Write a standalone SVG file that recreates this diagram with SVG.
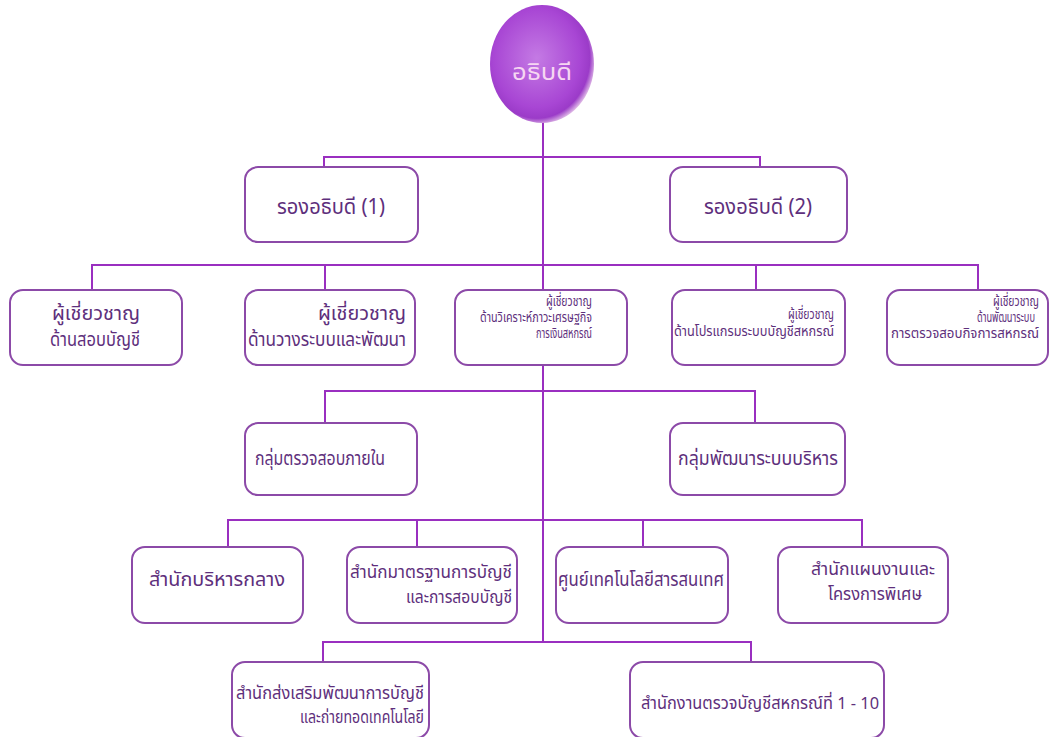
<svg xmlns="http://www.w3.org/2000/svg" width="1056" height="737" viewBox="0 0 1056 737">
<defs>
<radialGradient id="ball" cx="0.45" cy="0.45" r="0.58">
<stop offset="0" stop-color="#c47ae4"/>
<stop offset="0.72" stop-color="#a846d4"/>
<stop offset="0.88" stop-color="#9b3bc8"/>
<stop offset="1" stop-color="#ecd2ec"/>
</radialGradient>
<style>
.ln{fill:none;stroke:#9a2fc0;stroke-width:2}
.bx{fill:#ffffff;stroke:#8c4aa8;stroke-width:2}
.t{font-family:"Noto Sans Thai","Noto Sans","DejaVu Sans",sans-serif;fill:#5e2f7c}
.s22{font-size:21px}
.s20{font-size:19px}
.s18{font-size:18px}
.s17{font-size:17px}
.s14{font-size:14px}
</style>
</defs>
<rect width="1056" height="737" fill="#ffffff"/>
<g id="connectors">
<path class="ln" d="M543 122 V290"/>
<path class="ln" d="M543 365 V642"/>
<path class="ln" d="M324 167 V157 H760 V167"/>
<path class="ln" d="M92 290 V265 H978 V290"/>
<path class="ln" d="M325 265 V290"/>
<path class="ln" d="M756 265 V290"/>
<path class="ln" d="M325 423 V391 H755 V423"/>
<path class="ln" d="M228 547 V520 H862 V547"/>
<path class="ln" d="M417 520 V547"/>
<path class="ln" d="M643 520 V547"/>
<path class="ln" d="M323 662 V642 H751 V662"/>
</g>
<g id="director">
<ellipse cx="542" cy="64" rx="52" ry="59" fill="url(#ball)"/>
<text class="t" x="542" y="80" text-anchor="middle" font-size="23" style="fill:#f6d6f2" textLength="60" lengthAdjust="spacingAndGlyphs">อธิบดี</text>
</g>
<g id="deputy1">
<rect class="bx" x="245" y="167" width="173" height="75" rx="13"/>
<text class="t s22" x="331" y="214" text-anchor="middle" textLength="108" lengthAdjust="spacingAndGlyphs">รองอธิบดี (1)</text>
</g>
<g id="deputy2">
<rect class="bx" x="670" y="167" width="177" height="75" rx="13"/>
<text class="t s22" x="758" y="214" text-anchor="middle" textLength="108" lengthAdjust="spacingAndGlyphs">รองอธิบดี (2)</text>
</g>
<g id="expert1">
<rect class="bx" x="10" y="290" width="172" height="75" rx="13"/>
<text class="t s20" x="140" y="320" text-anchor="end" textLength="88" lengthAdjust="spacingAndGlyphs">ผู้เชี่ยวชาญ</text>
<text class="t s20" x="140" y="346" text-anchor="end" textLength="90" lengthAdjust="spacingAndGlyphs">ด้านสอบบัญชี</text>
</g>
<g id="expert2">
<rect class="bx" x="245" y="290" width="170" height="75" rx="13"/>
<text class="t s20" x="406" y="320" text-anchor="end" textLength="88" lengthAdjust="spacingAndGlyphs">ผู้เชี่ยวชาญ</text>
<text class="t s20" x="406" y="346" text-anchor="end" textLength="158" lengthAdjust="spacingAndGlyphs">ด้านวางระบบและพัฒนา</text>
</g>
<g id="expert3">
<rect class="bx" x="455" y="290" width="172" height="75" rx="13"/>
<text class="t s14" x="592" y="306" text-anchor="end" textLength="46" lengthAdjust="spacingAndGlyphs">ผู้เชี่ยวชาญ</text>
<text class="t s14" x="592" y="322" text-anchor="end" textLength="112" lengthAdjust="spacingAndGlyphs">ด้านวิเคราะห์ภาวะเศรษฐกิจ</text>
<text class="t s14" x="592" y="338" text-anchor="end" textLength="56" lengthAdjust="spacingAndGlyphs">การเงินสหกรณ์</text>
</g>
<g id="expert4">
<rect class="bx" x="672" y="290" width="173" height="75" rx="13"/>
<text class="t s14" x="834" y="319" text-anchor="end" textLength="46" lengthAdjust="spacingAndGlyphs">ผู้เชี่ยวชาญ</text>
<text class="t s14" x="834" y="336" text-anchor="end" textLength="160" lengthAdjust="spacingAndGlyphs">ด้านโปรแกรมระบบบัญชีสหกรณ์</text>
</g>
<g id="expert5">
<rect class="bx" x="887" y="290" width="161" height="75" rx="13"/>
<text class="t s14" x="1039" y="306" text-anchor="end" textLength="46" lengthAdjust="spacingAndGlyphs">ผู้เชี่ยวชาญ</text>
<text class="t s14" x="1035" y="322" text-anchor="end" textLength="58" lengthAdjust="spacingAndGlyphs">ด้านพัฒนาระบบ</text>
<text class="t s14" x="1039" y="338" text-anchor="end" textLength="148" lengthAdjust="spacingAndGlyphs">การตรวจสอบกิจการสหกรณ์</text>
</g>
<g id="group1">
<rect class="bx" x="245" y="423" width="172" height="72" rx="13"/>
<text class="t s20" x="320" y="465" text-anchor="middle" textLength="130" lengthAdjust="spacingAndGlyphs">กลุ่มตรวจสอบภายใน</text>
</g>
<g id="group2">
<rect class="bx" x="670" y="423" width="175" height="72" rx="13"/>
<text class="t s20" x="758" y="465" text-anchor="middle" textLength="160" lengthAdjust="spacingAndGlyphs">กลุ่มพัฒนาระบบบริหาร</text>
</g>
<g id="office1">
<rect class="bx" x="132" y="547" width="171" height="76" rx="13"/>
<text class="t s20" x="217" y="586" text-anchor="middle" textLength="136" lengthAdjust="spacingAndGlyphs">สำนักบริหารกลาง</text>
</g>
<g id="office2">
<rect class="bx" x="347" y="547" width="170" height="76" rx="13"/>
<text class="t s18" x="512" y="578" text-anchor="end" textLength="162" lengthAdjust="spacingAndGlyphs">สำนักมาตรฐานการบัญชี</text>
<text class="t s18" x="512" y="603" text-anchor="end" textLength="106" lengthAdjust="spacingAndGlyphs">และการสอบบัญชี</text>
</g>
<g id="office3">
<rect class="bx" x="556" y="547" width="172" height="76" rx="13"/>
<text class="t s20" x="641" y="586" text-anchor="middle" textLength="166" lengthAdjust="spacingAndGlyphs">ศูนย์เทคโนโลยีสารสนเทศ</text>
</g>
<g id="office4">
<rect class="bx" x="778" y="547" width="170" height="76" rx="13"/>
<text class="t s18" x="873" y="575" text-anchor="middle" textLength="124" lengthAdjust="spacingAndGlyphs">สำนักแผนงานและ</text>
<text class="t s18" x="875" y="600" text-anchor="middle" textLength="94" lengthAdjust="spacingAndGlyphs">โครงการพิเศษ</text>
</g>
<g id="office5">
<rect class="bx" x="232" y="662" width="197" height="76" rx="13"/>
<text class="t s17" x="424" y="699" text-anchor="end" textLength="188" lengthAdjust="spacingAndGlyphs">สำนักส่งเสริมพัฒนาการบัญชี</text>
<text class="t s17" x="424" y="723" text-anchor="end" textLength="124" lengthAdjust="spacingAndGlyphs">และถ่ายทอดเทคโนโลยี</text>
</g>
<g id="office6">
<rect class="bx" x="630" y="662" width="254" height="76" rx="13"/>
<text class="t s17" x="760" y="709" text-anchor="middle" textLength="238" lengthAdjust="spacingAndGlyphs">สำนักงานตรวจบัญชีสหกรณ์ที่ 1 - 10</text>
</g>
</svg>
